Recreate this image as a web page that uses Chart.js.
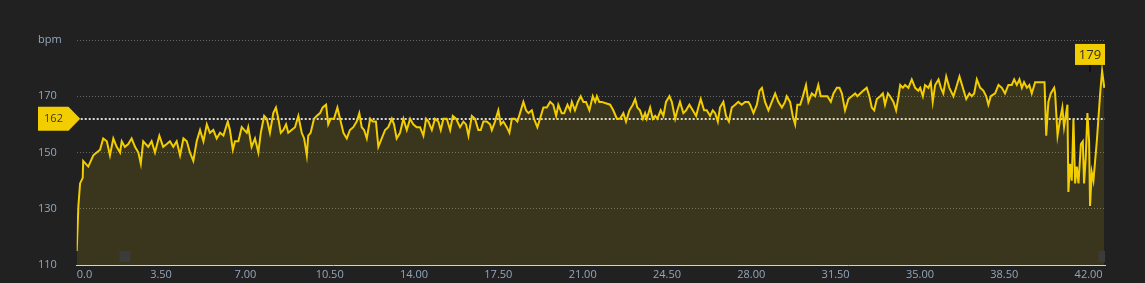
<!DOCTYPE html>
<html>
<head>
<meta charset="utf-8">
<script src="https://cdn.jsdelivr.net/npm/chart.js@4.4.1/dist/chart.umd.min.js"></script>
<style>
  body { margin: 0; background: #212121; }
  #wrap { width: 1145px; height: 283px; }
</style>
</head>
<body>
<div id="wrap"><canvas id="hr" width="1145" height="283"></canvas></div>
<script>
// elapsed minutes and heart rate
const minutes = [
  0, 0.07, 0.14, 0.25, 0.27, 0.48, 0.69, 0.83, 0.97, 1.10,
  1.25, 1.38, 1.52, 1.66, 1.80, 1.87, 2.00, 2.14, 2.28, 2.42,
  2.56, 2.66, 2.76, 2.97, 3.11, 3.25, 3.43, 3.59, 3.74, 3.87,
  4.01, 4.15, 4.29, 4.43, 4.57, 4.70, 4.84, 4.98, 5.12, 5.26,
  5.40, 5.53, 5.67, 5.81, 5.95, 6.09, 6.27, 6.36, 6.48, 6.57,
  6.71, 6.85, 7.06, 7.12, 7.26, 7.40, 7.54, 7.64, 7.78, 7.89,
  8.02, 8.16, 8.27, 8.37, 8.47, 8.58, 8.69, 8.78, 8.92, 9.06,
  9.20, 9.34, 9.44, 9.55, 9.61, 9.71, 9.85, 9.96, 10.10, 10.21,
  10.35, 10.44, 10.54, 10.68, 10.82, 10.93, 11.07, 11.21, 11.34, 11.48,
  11.62, 11.73, 11.83, 11.93, 12.04, 12.18, 12.29, 12.42, 12.52, 12.66,
  12.80, 12.93, 13.08, 13.17, 13.28, 13.42, 13.56, 13.70, 13.84, 13.97,
  14.11, 14.25, 14.39, 14.50, 14.60, 14.74, 14.87, 15.01, 15.11, 15.22,
  15.36, 15.50, 15.61, 15.75, 15.91, 16.05, 16.16, 16.26, 16.40, 16.53,
  16.67, 16.77, 16.88, 17.02, 17.16, 17.23, 17.36, 17.50, 17.60, 17.71,
  17.85, 17.96, 18.06, 18.19, 18.29, 18.40, 18.54, 18.65, 18.75, 18.89,
  18.98, 19.12, 19.23, 19.37, 19.51, 19.65, 19.78, 19.90, 19.99, 20.13,
  20.23, 20.37, 20.48, 20.55, 20.68, 20.80, 20.92, 21.03, 21.14, 21.28,
  21.42, 21.52, 21.59, 21.69, 21.79, 22.14, 22.27, 22.42, 22.55, 22.69,
  22.80, 22.94, 23.08, 23.18, 23.27, 23.38, 23.50, 23.59, 23.66, 23.80,
  23.91, 24.01, 24.10, 24.24, 24.35, 24.46, 24.60, 24.70, 24.84, 24.93,
  25.04, 25.18, 25.29, 25.43, 25.57, 25.71, 25.80, 25.90, 26.04, 26.15,
  26.29, 26.40, 26.50, 26.61, 26.70, 26.84, 26.95, 27.07, 27.19, 27.33,
  27.46, 27.60, 27.74, 27.88, 27.95, 28.09, 28.23, 28.34, 28.44, 28.57,
  28.71, 28.85, 28.99, 29.12, 29.27, 29.40, 29.47, 29.61, 29.72, 29.82,
  29.91, 30.03, 30.14, 30.27, 30.37, 30.51, 30.65, 30.78, 30.88, 31.02,
  31.16, 31.30, 31.41, 31.55, 31.66, 31.76, 31.89, 32.03, 32.17, 32.31,
  32.40, 32.52, 32.65, 32.79, 32.90, 33.00, 33.10, 33.21, 33.35, 33.46,
  33.55, 33.67, 33.76, 33.90, 34.01, 34.11, 34.18, 34.29, 34.38, 34.52,
  34.66, 34.80, 34.93, 35.01, 35.12, 35.21, 35.35, 35.45, 35.53, 35.63,
  35.77, 35.87, 35.97, 36.09, 36.22, 36.39, 36.50, 36.64, 36.78, 36.92,
  37.05, 37.15, 37.25, 37.36, 37.50, 37.63, 37.75, 37.84, 37.94, 38.12,
  38.26, 38.40, 38.53, 38.67, 38.81, 38.91, 39.02, 39.13, 39.23, 39.32,
  39.44, 39.54, 39.64, 39.78, 40.17, 40.24, 40.33, 40.43, 40.57, 40.61,
  40.71, 40.82, 40.91, 40.98, 41.05, 41.12, 41.16, 41.23, 41.30, 41.37,
  41.44, 41.51, 41.58, 41.68, 41.76, 41.81, 41.88, 41.95, 42.02, 42.06,
  42.13, 42.20, 42.34, 42.48, 42.56, 42.65
];
const bpm = [
  115, 131, 139, 141, 147, 145, 149, 150, 151, 155,
  154, 149, 155, 152, 150, 154, 152, 153, 155, 152,
  150, 146, 154, 152, 154, 150, 156, 152, 153, 154,
  152, 154, 149, 155, 154, 150, 147, 154, 158, 154,
  160, 157, 158, 155, 157, 156, 161, 158, 151, 154,
  154, 159, 157, 159, 152, 155, 150, 157, 163, 162,
  157, 164, 166, 162, 157, 158, 160, 157, 158, 159,
  163, 157, 155, 149, 156, 157, 162, 163, 164, 166,
  167, 160, 162, 162, 166, 162, 157, 155, 158, 159,
  161, 164, 159, 158, 155, 162, 161, 161, 152, 155,
  158, 159, 162, 160, 155, 157, 162, 158, 162, 160,
  159, 159, 156, 162, 161, 158, 162, 161, 158, 162,
  162, 158, 163, 162, 159, 161, 160, 156, 163, 162,
  158, 158, 161, 161, 160, 158, 161, 165, 160, 161,
  159, 157, 162, 162, 161, 164, 168, 165, 164, 165,
  162, 159, 162, 166, 166, 168, 167, 163, 167, 164,
  164, 167, 165, 168, 165, 168, 170, 168, 168, 165,
  170, 168, 170, 168, 168, 167, 165, 162, 162, 164,
  161, 165, 167, 169, 166, 165, 162, 164, 162, 166,
  162, 163, 162, 165, 163, 168, 170, 168, 162, 165,
  168, 164, 165, 167, 165, 163, 166, 169, 165, 165,
  163, 165, 164, 161, 166, 168, 163, 161, 166, 167,
  168, 167, 168, 168, 167, 164, 167, 172, 173, 168,
  165, 168, 171, 168, 166, 168, 170, 168, 163, 160,
  167, 167, 170, 174, 168, 171, 170, 174, 170, 170,
  170, 168, 171, 173, 173, 171, 165, 169, 170, 171,
  170, 171, 172, 173, 170, 166, 165, 169, 170, 171,
  167, 171, 170, 168, 165, 170, 174, 173, 174, 173,
  176, 173, 172, 173, 170, 174, 173, 175, 168, 174,
  176, 173, 171, 177, 173, 170, 173, 177, 173, 169,
  171, 170, 171, 176, 173, 172, 170, 167, 170, 171,
  174, 173, 171, 174, 174, 176, 174, 176, 173, 175,
  173, 174, 171, 175, 175, 156, 168, 171, 173, 171,
  156, 162, 166, 159, 163, 167, 136, 146, 140, 162,
  139, 145, 139, 153, 154, 139, 148, 164, 154, 131,
  143, 140, 154, 171, 179, 173
];
const avgBpm = 162;
const xMax = 42.68;
const xTicks = [0, 3.5, 7, 10.5, 14, 17.5, 21, 24.5, 28, 31.5, 35, 38.5, 42];
const yMin = 110, yMax = 190, yStep = 20;
const yUnit = 'bpm';
// lap markers along the bottom
const lapMinutes = [2.0, 42.65];
const lapLevel = 113;

const yellow = '#f2cd00';
const tickColor = '#93a7bb';
const fontFamily = "'Open Sans', 'DejaVu Sans', sans-serif";

const hrMarkers = {
  id: 'hrMarkers',
  beforeDatasetsDraw(chart) {
    const {ctx, chartArea, scales} = chart;
    const py = Math.round(scales.y.getPixelForValue(avgBpm));
    ctx.save();
    ctx.strokeStyle = 'rgba(240,240,240,0.9)';
    ctx.lineWidth = 2;
    ctx.setLineDash([2, 2]);
    ctx.beginPath();
    ctx.moveTo(chartArea.left, py);
    ctx.lineTo(chartArea.right, py);
    ctx.stroke();
    ctx.restore();
  },
  afterDatasetsDraw(chart) {
    const {ctx, chartArea, scales} = chart;
    // average label on the left
    const py = scales.y.getPixelForValue(avgBpm);
    const left = scales.y.left;
    const rectRight = left + 30.5;
    const tip = chartArea.left + 3.5;
    ctx.save();
    ctx.fillStyle = yellow;
    ctx.beginPath();
    ctx.moveTo(left, py - 12);
    ctx.lineTo(rectRight, py - 12);
    ctx.lineTo(tip, py);
    ctx.lineTo(rectRight, py + 12);
    ctx.lineTo(left, py + 12);
    ctx.closePath();
    ctx.fill();
    ctx.fillStyle = '#3a3a3a';
    ctx.font = '11px ' + fontFamily;
    ctx.textAlign = 'center';
    ctx.textBaseline = 'middle';
    ctx.fillText(String(avgBpm), left + 15.5, py + 0.5);

    // max label at the peak
    let iMax = 0;
    for (let i = 1; i < bpm.length; i++) {
      if (bpm[i] > bpm[iMax]) iMax = i;
    }
    const mx = scales.x.getPixelForValue(minutes[iMax]);
    const my = scales.y.getPixelForValue(bpm[iMax]);
    const boxW = 30, boxH = 21;
    const cx = Math.min(mx, chartArea.right - boxW / 2);
    const bottom = my - 6;
    ctx.fillStyle = '#111111';
    ctx.fillRect(Math.round(cx) - 1, bottom, 2, 7);
    ctx.fillStyle = yellow;
    ctx.fillRect(cx - boxW / 2, bottom - boxH, boxW, boxH);
    ctx.fillStyle = '#2e2e2e';
    ctx.font = '13px ' + fontFamily;
    ctx.fillText(String(bpm[iMax]), cx, bottom - boxH / 2 + 0.5);
    ctx.restore();
  }
};

const hrPoints = minutes.map((m, i) => ({x: m, y: bpm[i]}));
const lapPoints = lapMinutes.map(m => ({x: m, y: lapLevel}));

new Chart(document.getElementById('hr'), {
  type: 'line',
  data: {
    datasets: [{
      data: hrPoints,
      borderColor: yellow,
      borderWidth: 2,
      backgroundColor: 'rgba(240,205,0,0.12)',
      fill: 'start',
      pointRadius: 0,
      tension: 0,
    }, {
      data: lapPoints,
      showLine: false,
      pointStyle: 'rect',
      pointRadius: 7.8,
      pointBackgroundColor: '#3b3b3b',
      pointBorderWidth: 0,
      clip: 0,
      order: -1,
    }]
  },
  options: {
    responsive: false,
    animation: false,
    devicePixelRatio: 1,
    layout: {
      padding: {left: 38, right: 40, top: 40, bottom: 0}
    },
    plugins: {
      legend: {display: false},
      tooltip: {enabled: false}
    },
    scales: {
      x: {
        type: 'linear',
        min: 0,
        max: xMax,
        afterBuildTicks(scale) {
          scale.ticks = xTicks.map(v => ({value: v}));
          scale.ticks.push({value: xMax});
        },
        afterFit(scale) {
          scale.height = 18;
        },
        grid: {display: false, drawTicks: false},
        border: {display: true, color: '#d2d2d2', width: 1},
        ticks: {
          autoSkip: false,
          maxRotation: 0,
          align: 'inner',
          padding: 3,
          color: tickColor,
          font: {family: fontFamily, size: 11},
          callback(value) {
            if (value === 0) return '0.0';
            if (value === xMax) return '';
            return value.toFixed(2);
          }
        }
      },
      y: {
        min: yMin,
        max: yMax,
        afterFit(scale) {
          scale.width = 38.7;
        },
        grid: {
          drawTicks: false,
          lineWidth: 1,
          color: c => (c.tick && c.tick.value === yMin) ? 'rgba(0,0,0,0)' : '#666666'
        },
        border: {display: false, dash: [1, 2]},
        ticks: {
          stepSize: yStep,
          crossAlign: 'far',
          padding: 0,
          color: tickColor,
          font: {family: fontFamily, size: 11},
          callback: v => (v === yMax ? yUnit : v)
        }
      }
    }
  },
  plugins: [hrMarkers]
});
</script>
</body>
</html>
